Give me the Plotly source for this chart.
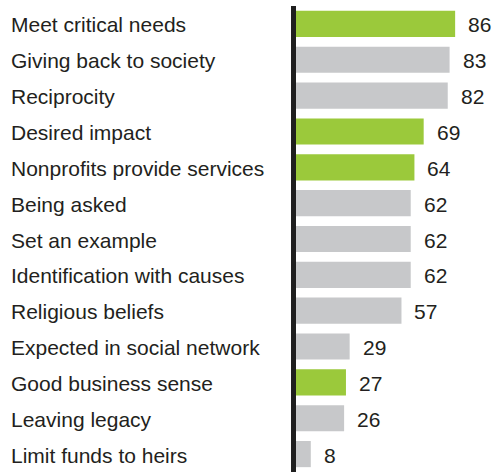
import plotly.graph_objects as go

categories = ["Meet critical needs", "Giving back to society", "Reciprocity", "Desired impact",
              "Nonprofits provide services", "Being asked", "Set an example",
              "Identification with causes", "Religious beliefs", "Expected in social network",
              "Good business sense", "Leaving legacy", "Limit funds to heirs"]
values = [86, 83, 82, 69, 64, 62, 62, 62, 57, 29, 27, 26, 8]
highlight = [True, False, False, True, True, False, False, False, False, False, True, False, False]

GREEN = "#9BC93B"
GRAY = "#C7C8CA"
TEXT = "#231F20"
FONT = "Liberation Sans, Arial, sans-serif"

W, H = 494, 472
L, R, T, B = 296, 0, 6, 0

colors = [GREEN if h else GRAY for h in highlight]

fig = go.Figure(go.Bar(
    x=values, y=categories, orientation="h",
    marker=dict(color=colors, line=dict(width=0)),
    width=0.73, hoverinfo="skip",
))

plot_w = W - L - R
annotations = []
for c in categories:
    annotations.append(dict(
        x=-(L - 9) / plot_w, xref="paper", y=c, yref="y",
        text=c, showarrow=False, xanchor="left", yanchor="middle",
        font=dict(family=FONT, size=21, color=TEXT), yshift=-1,
    ))
for c, v in zip(categories, values):
    annotations.append(dict(
        x=v, xref="x", y=c, yref="y", text=str(v), showarrow=False,
        xanchor="left", yanchor="middle", xshift=11, yshift=-1,
        font=dict(family=FONT, size=21, color=TEXT),
    ))

fig.update_layout(
    width=W, height=H,
    margin=dict(l=L, r=R, t=T, b=B, pad=0),
    paper_bgcolor="white", plot_bgcolor="white",
    showlegend=False,
    annotations=annotations,
    xaxis=dict(range=[0, 107], visible=False, fixedrange=True),
    yaxis=dict(categoryorder="array", categoryarray=categories, autorange="reversed",
               showticklabels=False, showgrid=False, zeroline=False, ticks="",
               showline=True, linewidth=5, linecolor="#1f1f1f", fixedrange=True),
)

fig.write_html("out.html")
